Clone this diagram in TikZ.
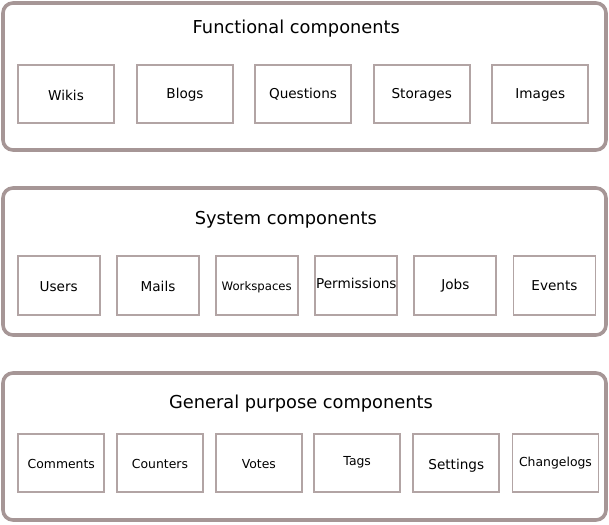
\documentclass[tikz,border=0pt]{standalone}
\usepackage{fontspec}
\setmainfont{DejaVu Sans}
\definecolor{frame}{RGB}{166,150,150}
\definecolor{cell}{RGB}{178,164,164}
\begin{document}
\begin{tikzpicture}[x=1pt,y=-1pt,
  group/.style={draw=frame,line width=3.6pt,rounded corners=10pt},
  grouptitle/.style={anchor=base,inner sep=0pt,font=\fontsize{17.8}{20}\selectfont},
  comp/.style={draw=cell,line width=1.8pt,inner sep=0pt,minimum height=58pt,
    text depth=0pt,font=\fontsize{13.6}{16}\selectfont},
  bl/.style={text height=#1 pt},
  small/.style={font=\fontsize{12.4}{15}\selectfont},
  tiny/.style={font=\fontsize{11.7}{14}\selectfont}]
\useasboundingbox (0,0) rectangle (609,524);

% group frames
\draw[group] (3,3) rectangle (606,150);
\draw[group] (3,188) rectangle (606,335);
\draw[group] (3,373) rectangle (606,520);

\node[grouptitle] (tfunc) at (296.3,34) {Functional components};
\node[grouptitle] (tsys) at (285.8,224) {System components};
\node[grouptitle] (tgen) at (301,408.3) {General purpose components};

% functional components
\begin{scope}[every node/.append style={comp,minimum width=96pt}]
\node[bl=11.6] (wikis) at (66,94.2) {Wikis};
\node[bl=9.6] (blogs) at (185,94.2) {Blogs};
\node[bl=9.6] (questions) at (303,94.2) {Questions};
\node[bl=9.6] (storages) at (421.7,94.2) {Storages};
\node[bl=9.6] (images) at (540.3,94.2) {Images};
\end{scope}

% system components
\begin{scope}[every node/.append style={comp,minimum width=82pt,minimum height=59pt}]
\node[bl=12.4] (users) at (58.7,285.5) {Users};
\node[bl=12.4] (mails) at (158,285.5) {Mails};
\node[bl=9,tiny] (workspaces) at (256.7,285.5) {Workspaces};
\node[bl=6.4] (permissions) at (356.3,285.5) {Permissions};
\node[bl=7.6] (jobs) at (455.3,285.5) {Jobs};
\node[bl=9] (events) at (554.5,285.5) {Events};
\end{scope}

% general purpose components
\begin{scope}[every node/.append style={comp,minimum width=86pt}]
\node[bl=12.2,small] (comments) at (61.3,462.6) {Comments};
\node[bl=12.2,small] (counters) at (160,462.6) {Counters};
\node[bl=12.2,small] (votes) at (258.8,462.6) {Votes};
\node[bl=5.4,small] (tags) at (357.2,462.6) {Tags};
\node[bl=12.8] (settings) at (456.3,462.6) {Settings};
\node[bl=8.2,small] (changelogs) at (555.5,462.6) {Changelogs};
\end{scope}
\end{tikzpicture}
\end{document}
